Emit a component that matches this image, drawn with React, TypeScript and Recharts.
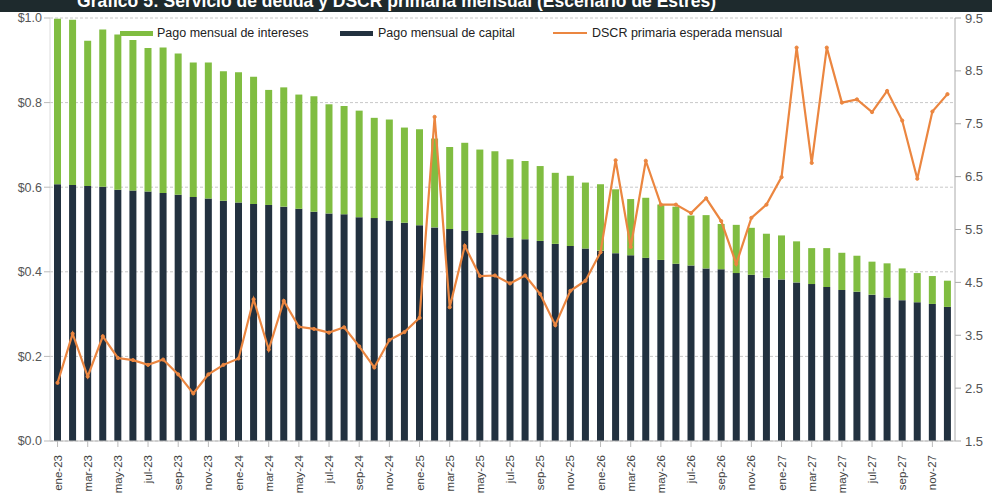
import React from "react";
import {
  ComposedChart,
  Bar,
  Line,
  XAxis,
  YAxis,
  CartesianGrid,
} from "recharts";

const months = [
  "ene-23","feb-23","mar-23","abr-23","may-23","jun-23","jul-23","ago-23","sep-23","oct-23","nov-23","dic-23",
  "ene-24","feb-24","mar-24","abr-24","may-24","jun-24","jul-24","ago-24","sep-24","oct-24","nov-24","dic-24",
  "ene-25","feb-25","mar-25","abr-25","may-25","jun-25","jul-25","ago-25","sep-25","oct-25","nov-25","dic-25",
  "ene-26","feb-26","mar-26","abr-26","may-26","jun-26","jul-26","ago-26","sep-26","oct-26","nov-26","dic-26",
  "ene-27","feb-27","mar-27","abr-27","may-27","jun-27","jul-27","ago-27","sep-27","oct-27","nov-27","dic-27",
];

const capital = [
  0.607,0.605,0.603,0.601,0.594,0.592,0.590,0.586,0.582,0.577,0.573,0.568,
  0.564,0.560,0.558,0.554,0.549,0.542,0.538,0.536,0.529,0.527,0.521,0.516,
  0.510,0.505,0.501,0.497,0.492,0.488,0.481,0.477,0.473,0.466,0.461,0.455,
  0.450,0.444,0.439,0.433,0.428,0.419,0.415,0.408,0.406,0.397,0.393,0.386,
  0.382,0.375,0.371,0.364,0.357,0.353,0.346,0.339,0.333,0.328,0.324,0.317,
];

const intereses = [
  0.391,0.391,0.343,0.372,0.367,0.356,0.339,0.344,0.334,0.318,0.322,0.306,
  0.308,0.301,0.272,0.282,0.270,0.273,0.258,0.256,0.252,0.237,0.239,0.225,
  0.227,0.210,0.194,0.208,0.197,0.197,0.185,0.185,0.177,0.168,0.166,0.156,
  0.157,0.151,0.133,0.142,0.131,0.135,0.118,0.126,0.107,0.114,0.111,0.104,
  0.104,0.097,0.085,0.092,0.088,0.085,0.078,0.081,0.075,0.069,0.066,0.062,
];

const dscr = [
  2.60,3.53,2.72,3.48,3.07,3.03,2.94,3.04,2.76,2.40,2.76,2.94,
  3.06,4.18,3.23,4.15,3.66,3.62,3.55,3.65,3.29,2.89,3.41,3.56,
  3.83,7.63,4.03,5.19,4.62,4.63,4.48,4.63,4.28,3.69,4.34,4.53,
  5.07,6.81,5.17,6.80,5.97,5.97,5.81,6.09,5.66,4.85,5.72,5.97,
  6.49,8.94,6.76,8.94,7.90,7.96,7.72,8.12,7.56,6.46,7.73,8.06,
];

const leftTicks = [0, 0.2, 0.4, 0.6, 0.8, 1.0];
const rightTicks = [1.5, 2.5, 3.5, 4.5, 5.5, 6.5, 7.5, 8.5, 9.5];

const titleText = "Gráfico 5: Servicio de deuda y DSCR primaria mensual (Escenario de Estrés)";
const seriesNames = {
  intereses: "Pago mensual de intereses",
  capital: "Pago mensual de capital",
  dscr: "DSCR primaria esperada mensual",
};

const data = months.map((m, i) => ({
  month: m,
  capital: capital[i],
  intereses: intereses[i],
  dscr: dscr[i],
}));

const NAVY = "#22313f";
const GREEN = "#80bd41";
const ORANGE = "#eb8640";
const FONT = "'Liberation Sans', Arial, sans-serif";

const XTick = (props: any) => {
  const { x, y, payload } = props;
  return (
    <g transform={`translate(${x},${y + 6})`}>
      <text
        transform="rotate(-90)"
        textAnchor="end"
        dominantBaseline="central"
        fontSize={11.5}
        fill="#444"
        fontFamily={FONT}
      >
        {payload.value}
      </text>
    </g>
  );
};

export default function App() {
  return (
    <div
      style={{
        position: "absolute",
        left: 0,
        top: 0,
        width: 992,
        height: 500,
        background: "#fff",
        overflow: "hidden",
        fontFamily: FONT,
      }}
    >
      <div
        style={{
          position: "absolute",
          left: 0,
          top: 0,
          width: 992,
          height: 12,
          background: "#1e2a2d",
          overflow: "hidden",
        }}
      >
        <div
          style={{
            position: "absolute",
            left: 0,
            top: -9,
            width: 716,
            textAlign: "right",
            whiteSpace: "nowrap",
            color: "#fff",
            fontWeight: "bold",
            fontSize: 17.5,
            lineHeight: "20px",
            fontFamily: FONT,
          }}
        >
          {titleText}
        </div>
      </div>
      <ComposedChart
        width={992}
        height={500}
        data={data}
        margin={{ top: 18, right: 0, bottom: 0, left: 8 }}
        barGap={0}
      >
        <CartesianGrid
          vertical={false}
          stroke="#c8c8c8"
          strokeDasharray="3 2"
          yAxisId="left"
        />
        <XAxis
          dataKey="month"
          interval={1}
          height={59}
          tick={<XTick />}
          tickLine={{ stroke: "#bbb" }}
          axisLine={{ stroke: "#bbb" }}
        />
        <YAxis
          yAxisId="left"
          domain={[0, 1]}
          ticks={leftTicks}
          width={42}
          tickFormatter={(v: number) => `$${v.toFixed(1)}`}
          tick={{ fontSize: 12.5, fill: "#555", fontFamily: FONT }}
          tickLine={{ stroke: "#bbb" }}
          axisLine={{ stroke: "#ddd" }}
        />
        <YAxis
          yAxisId="right"
          orientation="right"
          domain={[1.5, 9.5]}
          ticks={rightTicks}
          width={37}
          tickFormatter={(v: number) => v.toFixed(1)}
          tick={{ fontSize: 13, fill: "#555", fontFamily: FONT }}
          tickLine={{ stroke: "#aaa" }}
          axisLine={{ stroke: "#aaa" }}
          tickMargin={4}
        />
        <Bar
          yAxisId="left"
          dataKey="capital"
          stackId="a"
          fill={NAVY}
          barSize={7}
          isAnimationActive={false}
        />
        <Bar
          yAxisId="left"
          dataKey="intereses"
          stackId="a"
          fill={GREEN}
          barSize={7}
          isAnimationActive={false}
        />
        <Line
          yAxisId="right"
          dataKey="dscr"
          type="linear"
          stroke={ORANGE}
          strokeWidth={2.2}
          dot={{ r: 1.6, fill: ORANGE, stroke: ORANGE, strokeWidth: 1 }}
          isAnimationActive={false}
        />
      </ComposedChart>
      <div
        style={{
          position: "absolute",
          top: 26,
          left: 0,
          width: 992,
          height: 20,
          fontSize: 12.5,
          color: "#222",
          fontFamily: FONT,
        }}
      >
        <div style={{ position: "absolute", left: 120, top: 5, width: 33, height: 5, background: GREEN }} />
        <div style={{ position: "absolute", left: 157, top: 0, whiteSpace: "nowrap" }}>{seriesNames.intereses}</div>
        <div style={{ position: "absolute", left: 340, top: 5, width: 33, height: 5, background: NAVY }} />
        <div style={{ position: "absolute", left: 378, top: 0, whiteSpace: "nowrap" }}>{seriesNames.capital}</div>
        <div style={{ position: "absolute", left: 553, top: 6, width: 34, height: 2, background: ORANGE }} />
        <div style={{ position: "absolute", left: 592, top: 0, whiteSpace: "nowrap" }}>{seriesNames.dscr}</div>
      </div>
    </div>
  );
}
